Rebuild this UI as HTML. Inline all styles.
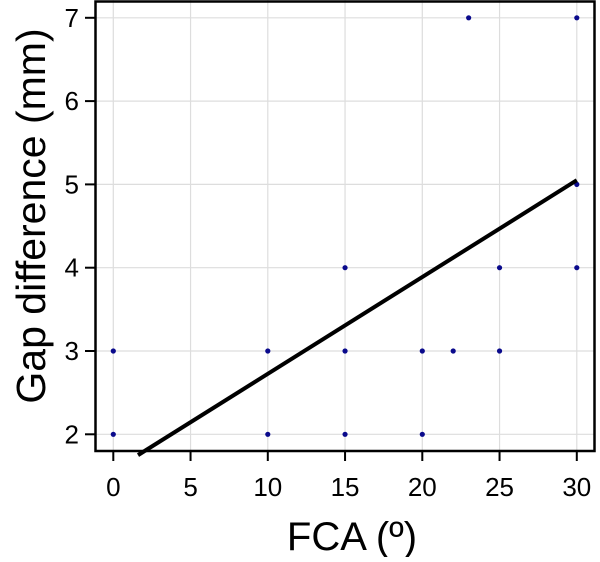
<!DOCTYPE html>
<html><head><meta charset="utf-8"><style>
body{margin:0;background:#fff;}
svg text{font-family:"Liberation Sans",sans-serif;fill:#000;}
</style></head><body>
<svg id="chart" width="600" height="557">
<g id="grid"></g>
<g id="ticks"></g>
<g id="pts"></g>
<line id="fit" stroke="#000" stroke-width="4"/>
<rect x="95.5" y="1.5" width="499" height="449.5" fill="none" stroke="#000" stroke-width="2.5"/>
<text x="352" y="550" font-size="40" text-anchor="middle">FCA (º)</text>
<text transform="translate(45,216) rotate(-90)" font-size="41" text-anchor="middle">Gap difference (mm)</text>
</svg>
<script>
const xTicks=[0,5,10,15,20,25,30];
const yTicks=[2,3,4,5,6,7];
const xs=[0,0,10,10,15,15,15,20,20,22,23,25,25,30,30,30];
const ys=[2,3,2,3,2,3,4,2,3,3,7,3,4,4,5,7];
const fitX=[1.6,30];
const fitY=[1.75,5.05];
const X=v=>113.3+v*15.45, Y=v=>434.3-(v-2)*83.3;
const NS="http://www.w3.org/2000/svg";
function mk(t,a,p){const e=document.createElementNS(NS,t);for(const k in a)e.setAttribute(k,a[k]);p.appendChild(e);return e;}
const g=document.getElementById('grid'),tk=document.getElementById('ticks'),pg=document.getElementById('pts');
xTicks.forEach(v=>{
 const l=mk('line',{x1:X(v),x2:X(v),y1:0,y2:451,stroke:'#ddd','stroke-width':1.2},g);
 
 const t=mk('line',{x1:X(v),x2:X(v),y1:451,y2:461,stroke:'#000','stroke-width':2},tk);
 
 const s=mk('text',{x:X(v),y:496,'font-size':26,'text-anchor':'middle'},tk);s.textContent=v;
 
});
yTicks.forEach(v=>{
 const l=mk('line',{x1:95,x2:595,y1:Y(v),y2:Y(v),stroke:'#ddd','stroke-width':1.2},g);
 
 const t=mk('line',{x1:85,x2:95,y1:Y(v),y2:Y(v),stroke:'#000','stroke-width':2},tk);
 
 const s=mk('text',{x:79,y:Y(v)+9,'font-size':26,'text-anchor':'end'},tk);s.textContent=v;
 
});
xs.forEach((v,i)=>{
 const c=mk('circle',{cx:X(v),cy:Y(ys[i]),r:2.6,fill:'#0a0a8c'},pg);
 
});
const f=document.getElementById('fit');
f.setAttribute('x1',X(fitX[0]));f.setAttribute('y1',Y(fitY[0]));
f.setAttribute('x2',X(fitX[1]));f.setAttribute('y2',Y(fitY[1]));
</script>
</body></html>
